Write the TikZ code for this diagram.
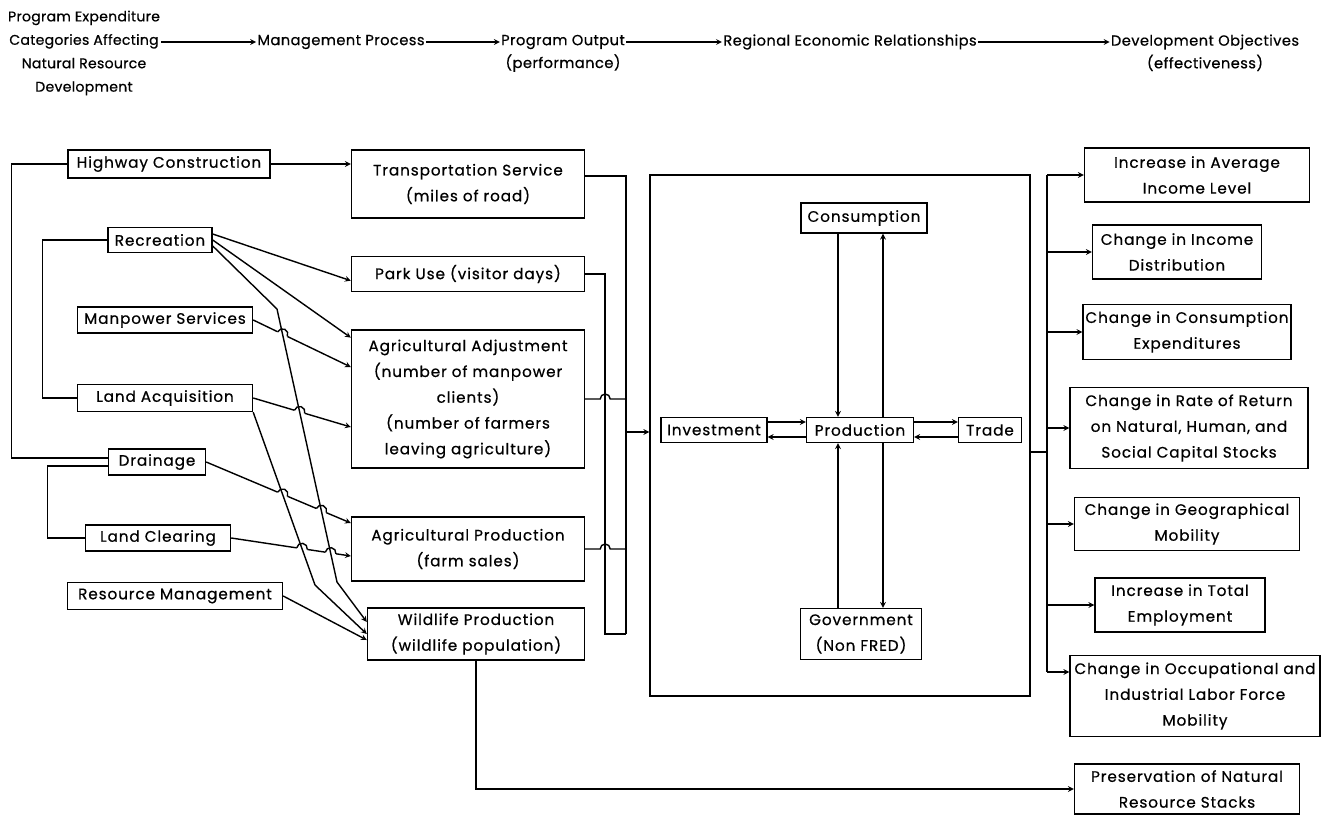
\documentclass[tikz,border=0pt]{standalone}
\usepackage{fontspec}
\setmainfont{Poppins}[FakeBold=0.6]
\usepackage{tikz}
\usetikzlibrary{positioning, arrows, calc, intersections}

% hop of line #2--#3 over a crossing at #1
\newcommand\jumpover[3]{%
  \draw[white, line width=3pt] let \p1=($(#3)-(#2)$), \n1={atan2(\y1,\x1)} in
    ([shift={(\n1+180:.16cm)}]#1) -- ([shift={(\n1:.16cm)}]#1);
  \draw[link] let \p1=($(#3)-(#2)$), \n1={atan2(\y1,\x1)} in
    ([shift={(\n1+180:.16cm)}]#1) arc[start angle=\n1+180, end angle=\n1, radius=.16cm];
}

\begin{document}
\begin{tikzpicture}[x=0.03cm, y=-0.03cm,
    head/.style={font=\fontsize{12.5}{20}\selectfont\addfontfeatures{LetterSpace=3}, align=center, inner sep=1pt},
    box/.style={rectangle, draw, line width=1.2pt, align=center, inner sep=2pt, font=\fontsize{13}{22}\selectfont\addfontfeatures{LetterSpace=6}},
    link/.style={line width=1.2pt},
    arrow/.style={-stealth, line width=1.2pt}
]
\useasboundingbox (0,0) rectangle (1327,819);

% header
\node[head, font=\fontsize{12}{20}\selectfont\addfontfeatures{LetterSpace=2}] (progexp) at (84,53) {Program Expenditure\\Categories Affecting\\Natural Resource\\Development};
\node[head] (mgmt) at (341,42) {Management Process};
\node[head] (output) at (563,42) {Program Output};
\node[head, below=2pt of output] (perf) {(performance)};
\node[head] (regional) at (850,42) {Regional Economic Relationships};
\node[head] (devobj) at (1205,42) {Development Objectives};
\node[head, below=2pt of devobj] (effect) {(effectiveness)};

\draw[arrow] (progexp.east |- mgmt.west) -- (mgmt.west);
\foreach \source/\dest in {mgmt/output, output/regional, regional/devobj}
    \draw[arrow] (\source.east) -- (\dest.west);

% expenditure categories
\node[box, minimum width=6.06cm, minimum height=.84cm] (hwy) at (169,164) {Highway Construction};
\node[box, minimum width=3.12cm, minimum height=.75cm] (rec) at (160,240) {Recreation};
\node[box, minimum width=5.25cm, minimum height=.78cm] (manp) at (165,320) {Manpower Services};
\node[box, minimum width=5.25cm, minimum height=.81cm] (landacq) at (165,398) {Land Acquisition};
\node[box, minimum width=2.91cm, minimum height=.78cm] (drain) at (157,462) {Drainage};
\node[box, minimum width=4.35cm, minimum height=.78cm] (clear) at (158,538) {Land Clearing};
\node[box, minimum width=6.45cm, minimum height=.81cm] (resmgmt) at (175,596) {Resource Management};

% program output
\node[box, minimum width=6.99cm, minimum height=2.04cm] (transp) at (468,184) {Transportation Service\\(miles of road)};
\node[box, minimum width=6.99cm, minimum height=1.05cm] (park) at (468,274) {Park Use (visitor days)};
\node[box, minimum width=6.99cm, minimum height=4.14cm] (agadj) at (468,399) {Agricultural Adjustment\\(number of manpower\\clients)\\(number of farmers\\leaving agriculture)};
\node[box, minimum width=6.99cm, minimum height=1.92cm] (agprod) at (468,549) {Agricultural Production\\(farm sales)};
\node[box, minimum width=6.51cm, minimum height=1.56cm] (wild) at (476,634) {Wildlife Production\\(wildlife population)};

% regional economy
\node[box, minimum width=11.4cm, minimum height=15.63cm] (econ) at (840,435.5) {};
\node[box, minimum width=3.78cm, minimum height=.9cm] (cons) at (864,218) {Consumption};
\node[box, minimum width=3.21cm, minimum height=.75cm] (prod) at (860,430) {Production};
\node[box, minimum width=3.18cm, minimum height=.75cm] (inv) at (714,430) {Investment};
\node[box, minimum width=1.89cm, minimum height=.75cm] (trade) at (990,430) {Trade};
\node[box, minimum width=3.63cm, minimum height=1.53cm] (gov) at (861,634) {Government\\(Non FRED)};

% development objectives
\node[box, minimum width=6.75cm, minimum height=1.62cm] (income) at (1197,175) {Increase in Average\\Income Level};
\node[box, minimum width=5.07cm, minimum height=1.62cm] (distrib) at (1177,252) {Change in Income\\Distribution};
\node[box, minimum width=6.15cm, minimum height=1.65cm] (consexp) at (1187,332) {Change in Consumption\\Expenditures};
\node[box, minimum width=7.14cm, minimum height=2.43cm] (ror) at (1189,428) {Change in Rate of Return\\on Natural, Human, and\\Social Capital Stocks};
\node[box, minimum width=6.75cm, minimum height=1.59cm] (geomob) at (1187,524) {Change in Geographical\\Mobility};
\node[box, minimum width=5.1cm, minimum height=1.62cm] (employ) at (1180,605) {Increase in Total\\Employment};
\node[box, minimum width=7.5cm, minimum height=2.43cm] (labmob) at (1195,696) {Change in Occupational and\\Industrial Labor Force\\Mobility};
\node[box, minimum width=6.75cm, minimum height=1.5cm] (preserve) at (1187,789) {Preservation of Natural\\Resource Stacks};

% brackets on the left
\draw[link] (hwy.west) -- ++(-56,0) |- ([yshift=.12cm]drain.west);
\draw[link] (rec.west) -- ++(-65,0) |- (landacq.west);
\draw[link] ([yshift=-.12cm]drain.west) -- ++(-60,0) |- (clear.west);

% straight arrows
\draw[arrow] (hwy.east) -- (hwy.east -| transp.west);
\draw[arrow] ([yshift=.18cm]rec.east) -- ([yshift=-.2cm]park.west);
\draw[arrow] (rec.east) -- ([yshift=-.25cm]agadj.north west);
\draw[arrow] (resmgmt.east) -- ([yshift=-.18cm]wild.west);

% routes down to wildlife
\coordinate (recout) at ([yshift=-.18cm]rec.east);
\coordinate (recin) at ([yshift=.36cm]wild.west);
\coordinate (rb1) at (277,309);
\coordinate (rb2) at (337,582);
\coordinate (ab1) at (315,585);
\path[name path=recw] (recout) -- (rb1) -- (rb2) -- (recin);
\path[name path=acqw] (landacq.south east) -- (ab1) -- (wild.west);

% arrows that hop over them
\coordinate (mantip) at ([yshift=.96cm]agadj.west);
\coordinate (acqtip) at ([yshift=-.84cm]agadj.west);
\coordinate (draintip) at ([yshift=.78cm]agprod.west);
\coordinate (cleartip) at ([yshift=-.21cm]agprod.west);
\draw[arrow, name path=manl] (manp.east) -- (mantip);
\draw[arrow, name path=acql] (landacq.east) -- (acqtip);
\draw[arrow, name path=drainl] (drain.east) -- (draintip);
\draw[arrow, name path=clearl] (clear.east) -- (cleartip);

\path[name intersections={of=manl and recw, by=x1}];
\path[name intersections={of=acql and recw, by=x2}];
\path[name intersections={of=drainl and acqw, by=x3}];
\path[name intersections={of=drainl and recw, by=x4}];
\path[name intersections={of=clearl and acqw, by=x5}];
\path[name intersections={of=clearl and recw, by=x6}];
\jumpover{x1}{manp.east}{mantip}
\jumpover{x2}{landacq.east}{acqtip}
\jumpover{x3}{drain.east}{draintip}
\jumpover{x4}{drain.east}{draintip}
\jumpover{x5}{clear.east}{cleartip}
\jumpover{x6}{clear.east}{cleartip}

\draw[arrow] (recout) -- (rb1) -- (rb2) -- (recin);
\draw[arrow] (landacq.south east) -- (ab1) -- (wild.west);

% left bus into the economy
\coordinate (lbusa) at (605,634);
\coordinate (lbusb) at (626,634);
\coordinate (lbusin) at (626,432);
\draw[link] (park.east) -| (lbusa) -- (lbusb);
\draw[link] ([yshift=.24cm]transp.east) -| (lbusb);
\draw[link] (agadj.east) -- ++(15,0) arc[start angle=180, end angle=0, radius=.15cm] -- (agadj.east -| lbusb);
\draw[link] (agprod.east) -- ++(15,0) arc[start angle=180, end angle=0, radius=.15cm] -- (agprod.east -| lbusb);
\draw[arrow] (lbusin) -- (lbusin -| econ.west);

% inside the economy
\coordinate (pl) at ([xshift=-.66cm]prod.center);
\coordinate (pr) at ([xshift=.69cm]prod.center);
\coordinate (pu) at ([yshift=.24cm]prod.center);
\coordinate (pd) at ([yshift=-.21cm]prod.center);
\draw[arrow] (pl |- cons.south) -- (pl |- prod.north);
\draw[arrow] (pr |- prod.north) -- (pr |- cons.south);
\draw[arrow] (pl |- gov.north) -- (pl |- prod.south);
\draw[arrow] (pr |- prod.south) -- (pr |- gov.north);
\draw[arrow] (inv.east |- pu) -- (prod.west |- pu);
\draw[arrow] (prod.west |- pd) -- (inv.east |- pd);
\draw[arrow] (prod.east |- pu) -- (trade.west |- pu);
\draw[arrow] (trade.west |- pd) -- (prod.east |- pd);

% right bus to the objectives
\coordinate (rjoin) at (1047,452);
\coordinate (rbus) at (1047,672);
\draw[link] (rjoin -| econ.east) -- (rjoin);
\draw[link] (income.west -| rbus) -- (rbus);
\foreach \goal in {income, distrib, consexp, ror, geomob, employ}
    \draw[arrow] (\goal.west -| rbus) -- (\goal.west);
\draw[arrow] (rbus) -- (rbus -| labmob.west);

% wildlife to preservation
\draw[arrow] (wild.south) |- (preserve.west);

\end{tikzpicture}
\end{document}
